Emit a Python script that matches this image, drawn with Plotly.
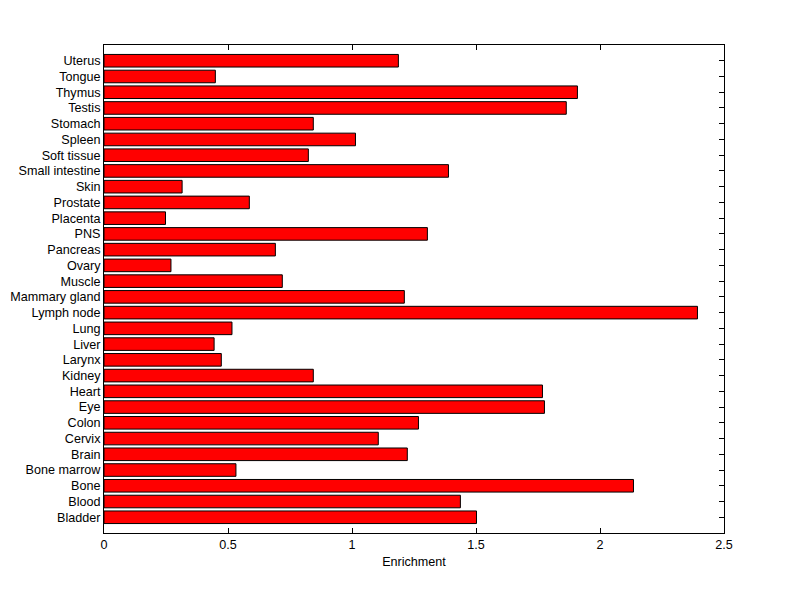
import plotly.graph_objects as go

tissues = ["Bladder", "Blood", "Bone", "Bone marrow", "Brain", "Cervix", "Colon", "Eye",
           "Heart", "Kidney", "Larynx", "Liver", "Lung", "Lymph node", "Mammary gland",
           "Muscle", "Ovary", "Pancreas", "PNS", "Placenta", "Prostate", "Skin",
           "Small intestine", "Soft tissue", "Spleen", "Stomach", "Testis", "Thymus",
           "Tongue", "Uterus"]
enrichment = [1.502, 1.437, 2.135, 0.532, 1.223, 1.106, 1.268, 1.776,
              1.768, 0.844, 0.473, 0.444, 0.516, 2.393, 1.211,
              0.719, 0.270, 0.691, 1.304, 0.248, 0.586, 0.315,
              1.389, 0.824, 1.014, 0.844, 1.864, 1.909,
              0.449, 1.187]
x_ticks = [0, 0.5, 1, 1.5, 2, 2.5]
x_tick_text = ["0", "0.5", "1", "1.5", "2", "2.5"]

fig = go.Figure(go.Bar(
    x=enrichment, y=tissues, orientation="h",
    width=0.8,
    marker=dict(color="#FF0000", line=dict(color="black", width=1)),
))

font = dict(family="Liberation Sans, Arial, sans-serif", size=12.6, color="black")
fig.update_layout(
    width=800, height=599,
    margin=dict(l=96, r=84, t=37, b=74),
    paper_bgcolor="white", plot_bgcolor="white",
    font=font, showlegend=False, bargap=0.2,
    xaxis=dict(range=[0, 2.5], tickmode="array", tickvals=x_ticks, ticktext=x_tick_text,
               ticks="inside", ticklen=5, tickcolor="black", tickwidth=1,
               showline=True, linecolor="black", linewidth=1, mirror="ticks",
               showgrid=False, zeroline=False, automargin=False,
               title=dict(text="Enrichment", standoff=6, font=font)),
    yaxis=dict(type="category", categoryorder="array", categoryarray=tissues,
               tickmode="array", tickvals=tissues, ticktext=tissues,
               range=[-1, len(tissues)],
               ticks="inside", ticklen=5, tickcolor="black", tickwidth=1,
               showline=True, linecolor="black", linewidth=1, mirror="ticks",
               showgrid=False, zeroline=False, layer="below traces",
               automargin=False, ticklabelstandoff=0),
)

fig.write_html("out.html")
